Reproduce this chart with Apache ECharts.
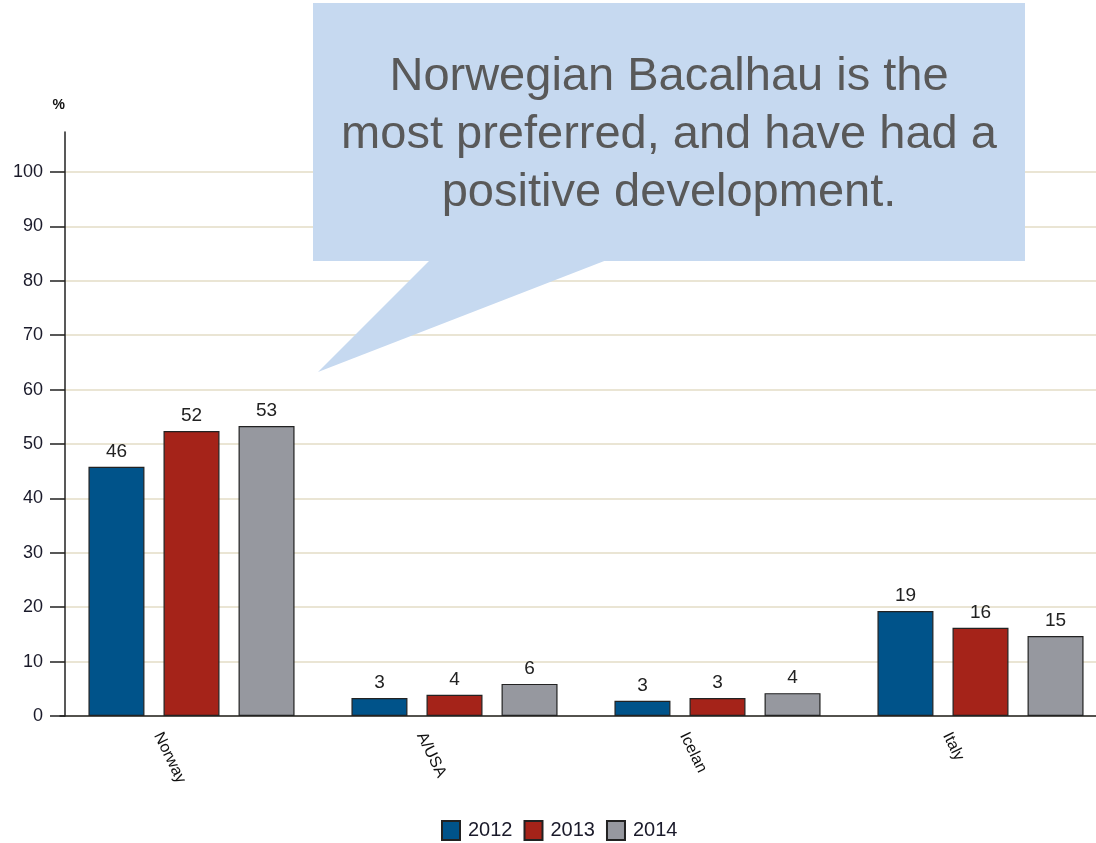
<!DOCTYPE html>
<html><head><meta charset="utf-8">
<script src="https://cdn.jsdelivr.net/npm/echarts@6/dist/echarts.min.js"></script>
<style>html,body{margin:0;padding:0;background:#fff;overflow:hidden}#c{width:1112px;height:843px}</style>
</head><body><div id="c"></div>
<script>
const categories = ['Norway', 'A/USA', 'Icelan', 'Italy'];
const seriesNames = ['2012', '2013', '2014'];
const values2012 = [45.8, 3.3, 2.8, 19.3];
const values2013 = [52.4, 3.9, 3.3, 16.2];
const values2014 = [53.3, 5.9, 4.2, 14.7];
const colors = ['#00538a', '#a52319', '#96989f'];
const calloutLines = ['Norwegian Bacalhau is the', 'most preferred, and have had a', 'positive development.'];
const font = 'Arial, "Liberation Sans", sans-serif';

const chart = echarts.init(document.getElementById('c'));
const allVals = [values2012, values2013, values2014];
const lineY = [77, 135, 193];
chart.setOption({
  animation: false,
  textStyle: { fontFamily: font },
  grid: { left: 60, right: 0, top: 132, bottom: 127, containLabel: false },
  legend: {
    top: 815, left: 436, itemWidth: 18, itemHeight: 19, itemGap: 11,
    icon: 'rect',
    textStyle: { fontSize: 20, color: '#1a1a2a', fontFamily: font, padding: [0, 0, 0, 3] },
    data: seriesNames
  },
  xAxis: {
    type: 'category', data: categories, boundaryGap: true,
    axisLine: { lineStyle: { color: '#222', width: 1.5 } },
    axisTick: { show: false },
    axisLabel: { rotate: -64, interval: 0, fontSize: 16, color: '#111', margin: 1,
      lineHeight: 25, formatter: v => '\n\n\n' + v, fontFamily: font }
  },
  yAxis: {
    type: 'value', min: 0, max: 107.35, interval: 10, offset: -5,
    name: '%', nameLocation: 'end', nameGap: 20,
    nameTextStyle: { fontSize: 14, fontWeight: 'bold', color: '#111', align: 'right', padding: [0, 0, 0, 0] },
    axisLine: { show: true, lineStyle: { color: '#222', width: 1.5 } },
    axisTick: { show: true, length: 15, lineStyle: { color: '#222', width: 1.5 } },
    axisLabel: { fontSize: 18, color: '#1a1a2a', margin: 22, showMaxLabel: false, fontFamily: font },
    splitLine: { show: true, showMaxLine: false, lineStyle: { color: '#e3dcc6', width: 1.5 } }
  },
  series: seriesNames.map((n, i) => ({
    name: n, type: 'bar', data: allVals[i],
    barWidth: 56, barGap: '34%',
    itemStyle: { color: colors[i], borderColor: '#222', borderWidth: 1.2 },
    label: { show: true, position: 'top', fontSize: 19, color: '#222', distance: 6,
      formatter: p => Math.round(p.value) }
  })),
  graphic: [
    { type: 'polygon', z: 100, shape: { points: [[432, 258], [612, 258], [318, 372]] },
      style: { fill: '#c6d9f0' } },
    { type: 'rect', z: 100, shape: { x: 313, y: 3, width: 712, height: 258 },
      style: { fill: '#c6d9f0' } }
  ].concat(calloutLines.map((t, i) => ({
    type: 'text', z: 101, x: 669, y: lineY[i],
    style: { text: t, align: 'center', verticalAlign: 'middle', fill: '#595959',
      font: '47px ' + font }
  })))
});
</script></body></html>
